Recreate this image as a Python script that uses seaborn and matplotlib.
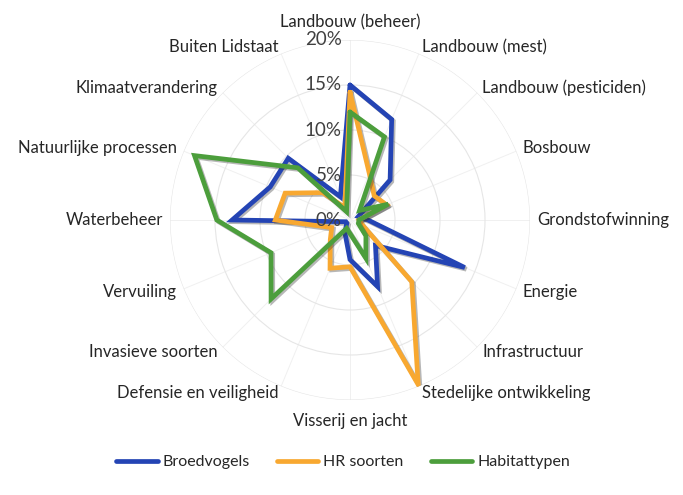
import numpy as np
import pandas as pd
import matplotlib
matplotlib.use("Agg")
import matplotlib.pyplot as plt
import matplotlib.patheffects as pe
from matplotlib.lines import Line2D
import seaborn as sns

categories = ["Landbouw (beheer)", "Landbouw (mest)", "Landbouw (pesticiden)", "Bosbouw",
              "Grondstofwinning", "Energie", "Infrastructuur", "Stedelijke ontwikkeling",
              "Visserij en jacht", "Defensie en veiligheid", "Invasieve soorten", "Vervuiling",
              "Waterbeheer", "Natuurlijke processen", "Klimaatverandering", "Buiten Lidstaat"]
broedvogels = [15.0, 12.1, 6.3, 1.0, 2.0, 13.8, 4.0, 8.0, 4.4, 1.5, 0.5, 0.5, 13.1, 9.6, 9.7, 2.8]
hr_soorten = [14.2, 5.6, 3.8, 4.4, 1.0, 1.5, 9.7, 19.8, 5.2, 5.8, 3.1, 2.2, 8.3, 7.8, 4.3, 1.5]
habitattypen = [12.0, 10.0, 1.5, 4.6, 1.0, 1.0, 2.5, 4.6, 1.5, 1.0, 12.4, 9.5, 14.8, 18.7, 8.2, 1.0]
series_names = ["Broedvogels", "HR soorten", "Habitattypen"]
r_ticks = [0, 5, 10, 15, 20]
r_tick_labels = ["0%", "5%", "10%", "15%", "20%"]

colors = {"Broedvogels": "#2444b4", "HR soorten": "#f8a830", "Habitattypen": "#4c9e3c"}

sns.set_theme(style="white")
plt.rcParams["font.family"] = ["Lato", "DejaVu Sans"]

n = len(categories)
angles = np.arange(n) * 2 * np.pi / n
closed_angles = np.append(angles, 2 * np.pi)

rows = []
for name, vals in zip(series_names, [broedvogels, hr_soorten, habitattypen]):
    closed_vals = list(vals) + [vals[0]]
    for a, v in zip(closed_angles, closed_vals):
        rows.append({"serie": name, "theta": a, "waarde": v})
df = pd.DataFrame(rows)

fig = plt.figure(figsize=(6.83, 4.95), dpi=100)
ax = fig.add_axes([0.2489, 0.1919, 0.5271, 0.7273], projection="polar")
ax.set_theta_zero_location("N")
ax.set_theta_direction(-1)

sns.lineplot(data=df, x="theta", y="waarde", hue="serie", palette=colors,
             sort=False, estimator=None, units="serie", linewidth=3.4, ax=ax, legend=False)
for line in ax.lines:
    line.set_path_effects([pe.SimpleLineShadow(offset=(1.2, -1.2), alpha=0.35, shadow_color="#333333"),
                           pe.Normal()])
    line.set_solid_joinstyle("miter")

ax.set_ylim(0, 20)
ax.set_yticks(r_ticks)
ax.set_yticklabels([])
ax.set_xticks(angles)
ax.set_xticklabels([])
ax.yaxis.grid(True, color="#e6e6e6", linewidth=0.8)
ax.xaxis.grid(True, color="#f0f0f0", linewidth=0.7)
ax.spines["polar"].set_visible(False)
ax.set_xlabel("")
ax.set_ylabel("")

for r, lab in zip(r_ticks, r_tick_labels):
    ax.annotate(lab, xy=(0, r), xytext=(-6, 0), textcoords="offset points",
                ha="right", va="center", fontsize=13.5, color="#404040", annotation_clip=False)

for a, lab in zip(angles, categories):
    s = np.sin(a)
    if abs(s) < 1e-6:
        ha = "center"
        if np.cos(a) > 0:
            va, rr = "bottom", 21.1
        else:
            va, rr = "top", 21.4
    else:
        ha = "left" if s > 0 else "right"
        va, rr = "center", 20.8
    ax.text(a, rr, lab, ha=ha, va=va, fontsize=12, color="#262626", clip_on=False)

handles = [Line2D([0], [0], color=colors[s], lw=3.4) for s in series_names]
fig.legend(handles, series_names, ncol=3, loc="center", bbox_to_anchor=(343 / 683, 1 - 462 / 495),
           frameon=False, fontsize=11.5, handlelength=2.6, columnspacing=1.7, handletextpad=0.3,
           labelcolor="#262626")

fig.savefig("out.png", dpi=100)
